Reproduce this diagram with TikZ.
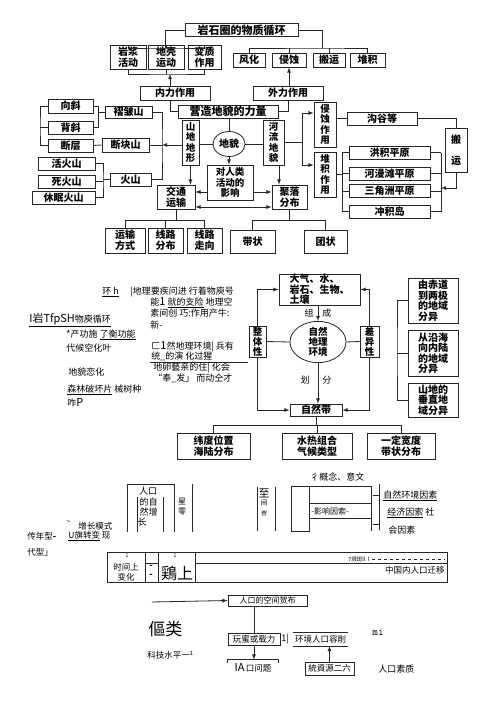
\documentclass[tikz,border=0pt]{standalone}
\usepackage{fontspec}
\setmainfont{Noto Sans CJK SC}
\usetikzlibrary{shapes.geometric}
\newcommand\fz[2]{\fontsize{#1}{#2}\selectfont}
\begin{document}
\begin{tikzpicture}[x=1pt,y=-1pt,line width=0.8pt,draw=black!85,
 kbox/.style={draw,inner sep=0,align=center,font=\fz{10}{11}\bfseries},
 sz/.style 2 args={minimum width=#1,minimum height=#2},
 tx/.style={anchor=west,inner sep=0,font=\fz{9}{10}},
 tc/.style={inner sep=0,font=\fz{9}{10}}]
\useasboundingbox[fill=white] (0,0) rectangle (500,706);
% rock cycle
\node[kbox,sz={113}{13},font=\fz{11}{12}\bfseries] (title) at (241.5,30) {岩石圈的物质循环};
\node[kbox,sz={36}{24}] (yjhd) at (128,57) {岩浆\\活动};
\node[kbox,sz={36}{24}] (dqyd) at (166,57) {地壳\\运动};
\node[kbox,sz={33}{24}] (bzzy) at (204.5,57) {变质\\作用};
\node[kbox,sz={70}{14}] (nlzy) at (175,93) {内力作用};
\node[kbox,sz={32}{14}] (fh) at (249,60) {风化};
\node[kbox,sz={34}{14}] (qs) at (289,60) {侵蚀};
\node[kbox,sz={32}{14}] (by) at (329,60) {搬运};
\node[kbox,sz={35}{14}] (dj) at (367.5,60) {堆积};
\node[kbox,sz={70}{14}] (wlzy) at (288,93) {外力作用};
\node[kbox,sz={100}{13},font=\fz{11}{12}\bfseries] (ylzl) at (228,111.5) {营造地貌的力量};
\node[kbox,sz={45}{14}] (xx) at (70.5,106) {向斜};
\node[kbox,sz={45}{13}] (bx) at (70.5,127.5) {背斜};
\node[kbox,sz={45}{13}] (dc) at (70.5,145.5) {断层};
\node[kbox,sz={47}{12}] (zzs) at (128.5,112) {褶皱山};
\node[kbox,sz={47}{14}] (dks) at (125.5,145) {断块山};
\node[kbox,sz={57}{13}] (hhs) at (66.5,163.5) {活火山};
\node[kbox,sz={57}{13}] (shs) at (66.5,181.5) {死火山};
\node[kbox,sz={63}{13}] (xmhs) at (63.5,197.5) {休眠火山};
\node[kbox,sz={41}{13}] (hs) at (130.5,179.5) {火山};
\node[kbox,sz={17}{45},font=\fz{9.5}{10.5}\bfseries] (sddx) at (190.5,142.5) {山\\地\\地\\形};
\node[kbox,ellipse,sz={32}{25}] (dm) at (229,144) {地貌};
\node[kbox,sz={46}{35},font=\fz{9.5}{10.5}\bfseries] (dr) at (230,182.5) {对人类\\活动的\\影响};
\node[kbox,sz={38}{24}] (jtys) at (176,197) {交通\\运输};
\node[kbox,sz={21}{45},font=\fz{9.5}{10.5}\bfseries] (hldm) at (273.5,142.5) {河\\流\\地\\貌};
\node[kbox,sz={35}{24}] (jlfb) at (289.5,197) {聚落\\分布};
\node[kbox,sz={22}{45},font=\fz{9.5}{10.5}\bfseries] (qszy) at (325,124.5) {侵\\蚀\\作\\用};
\node[kbox,sz={22}{45},font=\fz{9.5}{10.5}\bfseries] (djzy) at (325,174.5) {堆\\积\\作\\用};
\node[kbox,sz={70}{13}] (ggd) at (382,118.5) {沟谷等};
\node[kbox,sz={22}{44}] (byv) at (456,150) {搬\\[10pt]运};
\foreach \n/\y/\t in {hjpy/152.5/洪积平原,hmt/173.5/河漫滩平原,sjz/191/三角洲平原,cjd/211.5/冲积岛}
  \node[kbox,sz={81}{13}] (\n) at (389.5,\y) {\t};
\node[kbox,sz={40}{25}] (ysfs) at (125,240.5) {运输\\方式};
\node[kbox,sz={35}{25}] (xlfb) at (165.5,240.5) {线路\\分布};
\node[kbox,sz={35}{25}] (xlzx) at (204.5,240.5) {线路\\走向};
\node[kbox,sz={45}{23}] (dz) at (252.5,241.5) {带状};
\node[kbox,sz={43}{23}] (tz) at (325.5,241.5) {团状};
\coordinate (tl) at (165,48);\coordinate (tr) at (322,48);\coordinate (nb) at (170,74);
\draw (title.west) -| (tl);\draw (yjhd.north) |- (tl) -| (bzzy.north);\draw (dqyd.north) -- (dqyd.north |- tl);
\draw (title.east) -| (tr);\draw (fh.north) |- (tr) -| (dj.north);
\draw (qs.north) -- (qs.north |- tr);\draw (by.north) -- (by.north |- tr);
\draw (yjhd.south) |- (nb) -| (bzzy.south);\draw (dqyd.south) -- (dqyd.south |- nb);
\draw[-latex] (nlzy.north -| nb) -- (nb);
\draw[-latex] (wlzy.north -| qs.south) -- (qs.south);
\draw (nlzy.south -| nb) |- (ylzl.west);\draw (wlzy.south) |- (ylzl.east);
\draw (ylzl.south -| dm.north) -- (dm.north);
\coordinate (xb) at (98,112);\coordinate (lft) at (40,127.5);\coordinate (mv) at (162,145);\coordinate (vb) at (103,179.5);
\draw (xx.east) -| (xb);\draw (bx.east) -| (xb) -- (zzs.west);
\draw (xx.west) -| (lft) |- (dc.west);\draw (bx.west) -- (lft);
\draw (dc.east) -- (dks.west);
\draw (zzs.east) -| (mv) |- (hs.east);\draw (dks.east) -- (mv);
\draw[-latex] (sddx.west |- mv) -- (mv);
\draw (hhs.east) -| (vb) |- (xmhs.east);\draw (shs.east) -- (shs.east -| vb);\draw (vb) -- (hs.west);
\draw (sddx.east |- dm.west) -- (dm.west);\draw (dm.east) -- (dm.east -| hldm.west);
\draw[-latex] (dm.south) -- (dm.south |- dr.north);
\draw[-latex] (sddx.south) -- (sddx.south |- jtys.north);
\draw[-latex] ([yshift=-9.5pt]dr.west) -- ([yshift=-9.5pt]dr.west -| jtys.east);
\draw[-latex] ([yshift=-9.5pt]dr.east) -- ([yshift=-9.5pt]dr.east -| jlfb.west);
\draw[latex-latex] ([yshift=-10pt]jtys.east) -- ([yshift=-10pt]jtys.east -| jlfb.west);
\draw[-latex] ([xshift=5.5pt]hldm.south) -- ([xshift=5.5pt]hldm.south |- jlfb.north);
\coordinate (hx) at (302,142.5);
\draw (hldm.east) -- (hx);
\draw[-latex] (hx) |- ([yshift=11.5pt]qszy.west);\draw[-latex] (hx) |- ([yshift=9.5pt]djzy.west);
\draw (qszy.east |- ggd.west) -- (ggd.west);\draw (ggd.east) -| (byv.north);
\coordinate (lb) at (342,174.5);\coordinate (rb) at (441,188);
\draw (djzy.east) -- (lb);\draw (hjpy.west -| lb) -- (cjd.west -| lb);\draw (hjpy.east -| rb) -- (cjd.east -| rb);
\foreach \n in {hjpy,hmt,sjz,cjd}{\draw (\n.west) -- (\n.west -| lb);\draw (\n.east) -- (\n.east -| rb);}
\draw[-latex] (byv.south) |- (rb);
\draw (jtys.south) -- ++(0,11) coordinate (jb);\draw (ysfs.north) |- (jb) -| (xlzx.north);\draw (xlfb.north) -- (xlfb.north |- jb);
\draw (jlfb.south) -- ++(0,11) coordinate (jb2);\draw (dz.north) |- (jb2) -| (tz.north);
% natural environment
\node[kbox,sz={81}{31},align=left,font=\fz{10}{9.5}\bfseries] (dq) at (319.5,289.5) {大气、水、\\岩石、生物、\\土壤};
\node[kbox,ellipse,sz={56}{35},font=\fz{9.5}{10}\bfseries] (zrdl) at (318,342) {自然\\地理\\环境};
\node[kbox,sz={17}{31},font=\fz{9.5}{10}\bfseries] (zt) at (257.5,341.5) {整\\体\\性};
\node[kbox,sz={19}{31},font=\fz{9.5}{10}\bfseries] (cy) at (369.5,341.5) {差\\异\\性};
\node[kbox,sz={52}{12}] (zrd) at (316,410) {自然带};
\node[kbox,sz={50}{45},align=left,font=\fz{10}{10.5}\bfseries] (r1) at (433,300.5) {由赤道\\到两极\\的地域\\分异};
\node[kbox,sz={50}{46},align=left,font=\fz{10}{10.5}\bfseries] (r2) at (433,353) {从沿海\\向内陆\\的地域\\分异};
\node[kbox,sz={50}{34},align=left,font=\fz{10}{10.5}\bfseries] (r3) at (433,400) {山地的\\垂直地\\域分异};
\node[kbox,sz={73}{26}] (b1) at (213.5,446) {纬度位置\\海陆分布};
\node[kbox,sz={70}{26}] (b2) at (317,446) {水热组合\\气候类型};
\node[kbox,sz={68}{26}] (b3) at (401,446) {一定宽度\\带状分布};
\draw[-latex] (zt.north) |- (dq.west);\draw[-latex] (cy.north) |- (dq.east);
\draw[-latex] (dq.south -| zrdl.north) -- (zrdl.north) node[tc,midway,left=4pt] (zu) {组} node[tc,midway,right=4pt] (ch) {成};
\draw (zt.east) -- (zrdl.west);\draw (zrdl.east) -- (cy.west);
\draw[-latex] (zrdl.south) -- (zrdl.south |- zrd.north) node[tc,pos=.42,left=8pt] (hua) {划} node[tc,pos=.42,right=4pt] (fen) {分};
\draw[-latex] (zt.south) |- (zrd.west);\draw[-latex] (cy.south) |- (zrd.east);
\coordinate (rbk) at (397,353);
\draw (r1.west) -| (rbk) |- (r3.west);\draw (r2.west) -- (rbk);
\draw (zrd.south) -- ++(0,9) coordinate (zb);\draw (b1.north) |- (zb) -| (b3.north);\draw (b2.north) -- (b2.north |- zb);
% loose text
\node[tx] (t1) at (102,292) {\underline{环 h}};
\node[tx] (t2) at (130,292) {|地理要疾问进 行着物庾号};
\node[tx] (t3) at (150,303) {能{\fz{11}{11}1} \underline{就的支险} 地理空};
\node[tx] (t4) at (150,313) {素间创 巧:作用产牛:};
\node[tx] (t5) at (150,325) {新-};
\node[tx] (t6) at (29,320) {\underline{{\fz{11}{11}I岩TfpSH}物庾循环}};
\node[tx] (t7) at (66,335) {*产功施 \underline{了衡功能}};
\node[tx] (t8) at (66,348) {代候空化叶};
\node[tx] (t9) at (151,347) {匚{\fz{11}{11}1}然地理环境| 兵有};
\node[tx] (t10) at (151,357) {\underline{统\_的演 化过猩}};
\draw (150,362) -- (248,362);
\node[tx] (t11) at (153,368) {地卵藝亲的住| 化会};
\node[tx] (t12) at (153,378) {“奉\_发」 而动仝才};
\node[tx] (t13) at (68,372) {地貌恋化};
\node[tx] (t14) at (67,390) {\underline{森林破坏片} 械树种};
\node[tx] (t15) at (67,403) {咋{\fz{11}{11}P}};
% population
\draw (127,532) -- (127,484) -- (174,484) -- (174,532);
\draw (137,497) -- (137,532) (163,497) -- (163,532) (192,484) -- (192,532);
\node[tc] (p1) at (148,491) {人口};
\node[tc] (p2) at (148.5,502) {的自};
\node[tc] (p3) at (148.5,512) {然增};
\node[tc] (p4) at (142,522) {长};
\node[tc,font=\fz{8}{8}] (p5) at (182,502) {星};
\node[tc,font=\fz{8}{8}] (p6) at (182,512) {零};
\node[tx,font=\fz{8.5}{9}] (p7) at (78,526) {增长模式};
\node[tx,font=\fz{8}{8}] (p8) at (66,523) {\textasciitilde};
\node[tx,font=\fz{8.5}{9}] (p9) at (27,536) {传年型{\bfseries -}};
\node[tx,font=\fz{8.5}{9}] (p10) at (68,536) {\underline{U旗转变} 现};
\node[tx,font=\fz{8.5}{9}] (p11) at (27,552) {代型」};
\draw (107,552) rectangle (447,582);
\draw (145,552) -- (145,582) (158,552) -- (158,582) (195,552) -- (195,582);
\draw (145,563) -- (158,563) (195,563) -- (447,563);
\node[tc,font=\fz{5}{5}] (p12) at (127,556) {1};
\node[tc,font=\fz{5}{5}] (p13) at (175,556) {1};
\node[tc,font=\fz{8.5}{9}] (p14) at (126,567) {时间上};
\node[tc,font=\fz{8.5}{9}] (p15) at (126,577) {变化};
\node[tc,font=\fz{9}{9}\bfseries] (p16) at (151,567) {-};
\node[tc,font=\fz{9}{9}\bfseries] (p17) at (151,576) {-};
\node[tc,font=\fz{16}{16}] (p18) at (177,573) {鶏上};
\node[tx,font=\fz{5.5}{6}] (p19) at (348,559) {7溅斑ll\ \ l};
\draw[dashed] (372,559) -- (445,559);
\node[tc,anchor=east,font=\fz{8.5}{9}] (p20) at (445,570) {中国内人口迁移};
\draw (257,487) -- (257,531) (275,487) -- (275,531);
\draw (291,486) rectangle (309,531);
\draw (309,486) -- (371,486) (309,503) -- (371,503) (309,518) -- (371,518);
\draw (371,486) -- (371,531) (379,484) -- (379,530) (373,495) -- (379,495) (373,524) -- (379,524);
\node[tx] (q1) at (310,477) {彳概念、意文};
\node[tc,font=\fz{11}{11}] (q2) at (264,493) {至};
\node[tc,font=\fz{7}{7}] (q3) at (264,503) {间};
\node[tc,font=\fz{6}{6}] (q4) at (264,513) {峇};
\node[tx,font=\fz{8}{8}] (q5) at (311,511) {-影响因索-};
\node[tx] (q6) at (383,496) {\underline{自然环境因素}};
\node[tx] (q7) at (387,513) {\underline{经济因索} 社};
\node[tx] (q8) at (388,530) {会因素};
\coordinate (a0) at (152,602);
\node[kbox,sz={79}{11},font=\fz{8}{8}] (rkkj) at (267.5,600.5) {人口的空间贺布};
\draw[-latex] (a0) -- (rkkj.west);
\node[tx,font=\fz{17}{17}] (ml) at (148,629) {傴类};
\node[tx,font=\fz{8.5}{9}] (kj) at (147,655) {科技水平一\textsuperscript{1}};
\node[kbox,sz={52}{12},font=\fz{8.5}{9}] (hjcz) at (254,639) {玩蜜或载力};
\node[tx] (jj) at (281,639) {1|};
\node[tc,sz={55}{13},font=\fz{8.5}{9}] (hjrk) at (320.5,639) {环境人口容削};
\draw (hjrk.north west) -- (hjrk.north east) (hjrk.south west) -- (hjrk.south east);
\draw (rkkj.south -| hjcz.north) -- (hjcz.north);
\node[tc,sz={50}{16},font=\fz{8.5}{9}] (rkwt) at (253,668) {{\fz{11}{11}IA}\,口问题};
\draw (rkwt.north west) ++(0,3) -- (rkwt.north west) -- (rkwt.north east) -- ++(0,3);
\draw[-latex] (hjcz.south) -- (hjcz.south |- rkwt.north);
\node[kbox,sz={49}{13},font=\fz{8.5}{9}] (zy) at (329.5,668.5) {統資源二六};
\draw[-latex] (zy.north) -- (zy.north |- hjrk.south);
\node[tx,font=\fz{11}{11}\ttfamily] (mi) at (372,632) {mi};
\node[tx] (rksz) at (378,669) {人口素质};
\end{tikzpicture}
\end{document}
